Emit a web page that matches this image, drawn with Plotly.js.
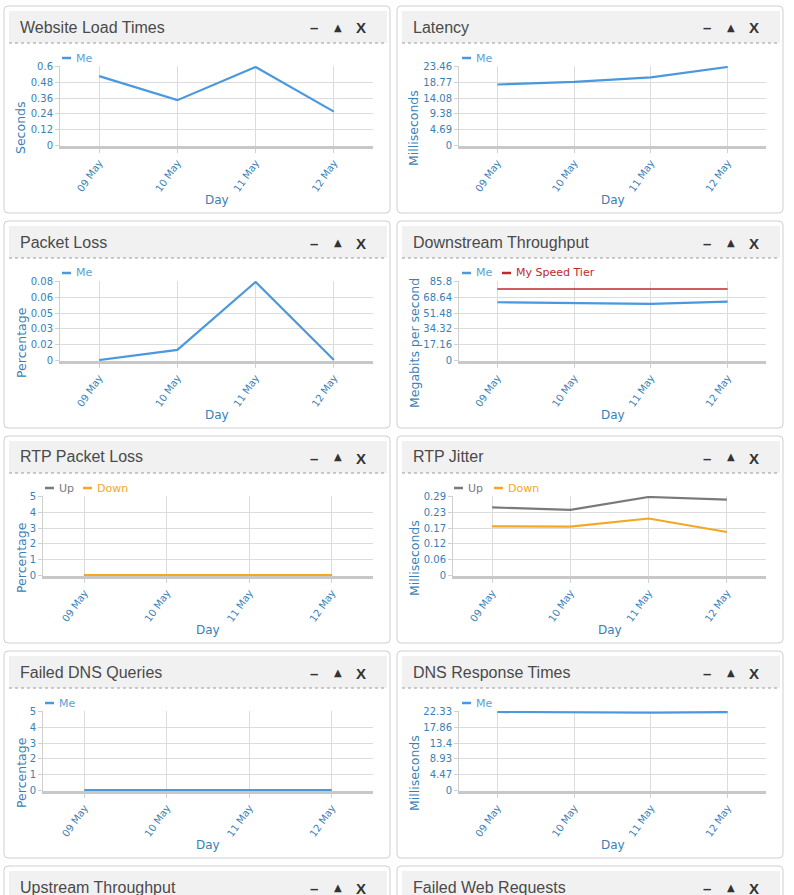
<!DOCTYPE html>
<html><head><meta charset="utf-8">
<script src="https://cdn.plot.ly/plotly-3.0.1.min.js"></script>
<style>html,body{margin:0;padding:0;background:#fff;overflow:hidden}#chart{width:794px;height:895px}</style>
</head><body><div id="chart"></div>
<script>
// ---- data ----
const days = ['09 May', '10 May', '11 May', '12 May'];
const loadTimesMe = [0.53, 0.345, 0.6, 0.257];
const latencyMe = [18.2, 18.97, 20.33, 23.46];
const packetLossMe = [0, 0.0104, 0.08, 0];
const downstreamMe = [63.5, 62.4, 61.8, 64.3];
const downstreamTier = [78, 78, 78, 78];
const rtpLossUp = [0, 0, 0, 0];
const rtpLossDown = [0, 0, 0, 0];
const jitterUp = [0.251, 0.242, 0.29, 0.280];
const jitterDown = [0.181, 0.180, 0.21, 0.16];
const dnsFailedMe = [0, 0, 0, 0];
const dnsResponseMe = [22.33, 22.15, 22.15, 22.3];
const yAxisMax = [0.6, 23.46, 0.08, 85.8, 5, 0.29, 5, 22.33];
const panelTitles = ['Website Load Times', 'Latency', 'Packet Loss', 'Downstream Throughput',
  'RTP Packet Loss', 'RTP Jitter', 'Failed DNS Queries', 'DNS Response Times',
  'Upstream Throughput', 'Failed Web Requests'];
const yTitles = ['Seconds', 'Milliseconds', 'Percentage', 'Megabits per second',
  'Percentage', 'Milliseconds', 'Percentage', 'Milliseconds'];
const xTitle = 'Day';

// ---- styling ----
const W = 794, H = 895;
const BLUE = '#4a98de', RED = '#c1272d', GRAY = '#7a7a7a', ORANGE = '#f5a623';
const AXC = '#3a7fb5';
const FONT = 'DejaVu Sans, Verdana, sans-serif';
const TFONT = 'Liberation Sans, Arial, sans-serif';
const X = p => p / W;
const Y = p => 1 - p / H;
const colX = [[4, 390], [397, 783]];
const rowTop = [6, 221, 436, 651, 866];

const charts = [
  {px: [60, 373], series: [{name: 'Me', y: loadTimesMe, c: BLUE}], leg: [2]},
  {px: [459, 766], series: [{name: 'Me', y: latencyMe, c: BLUE}], leg: [3]},
  {px: [60, 373], series: [{name: 'Me', y: packetLossMe, c: BLUE}], leg: [2]},
  {px: [459, 766], series: [{name: 'Me', y: downstreamMe, c: BLUE}, {name: 'My Speed Tier', y: downstreamTier, c: RED, w: 1.5}], leg: [3, 43]},
  {px: [43, 373], series: [{name: 'Up', y: rtpLossUp, c: GRAY}, {name: 'Down', y: rtpLossDown, c: ORANGE}], leg: [2, 40]},
  {px: [453, 766], series: [{name: 'Up', y: jitterUp, c: GRAY}, {name: 'Down', y: jitterDown, c: ORANGE}], leg: [1, 41]},
  {px: [43, 373], series: [{name: 'Me', y: dnsFailedMe, c: BLUE}], leg: [2]},
  {px: [459, 766], series: [{name: 'Me', y: dnsResponseMe, c: BLUE}], leg: [3]}
];

const traces = [], shapes = [], annotations = [];
const layout = {
  width: W, height: H, margin: {l: 0, r: 0, t: 0, b: 0},
  paper_bgcolor: '#fff', plot_bgcolor: 'rgba(0,0,0,0)',
  showlegend: false, shapes, annotations, hovermode: false
};

function roundRect(x0, y0, x1, y1, r) {
  const rx = r / W, ry = r / H;
  const a = X(x0), b = X(x1), t = Y(y0), u = Y(y1);
  return `M${a + rx},${t} L${b - rx},${t} Q${b},${t} ${b},${t - ry} L${b},${u + ry} Q${b},${u} ${b - rx},${u} L${a + rx},${u} Q${a},${u} ${a},${u + ry} L${a},${t - ry} Q${a},${t} ${a + rx},${t} Z`;
}

// panels (10, last two partly visible)
panelTitles.forEach((title, i) => {
  const col = i % 2, row = Math.floor(i / 2);
  const [x0, x1] = colX[col];
  const top = rowTop[row];
  shapes.push({type: 'path', xref: 'paper', yref: 'paper', layer: 'below',
    path: roundRect(x0, top, x1, top + 207, 4), fillcolor: '#fff', line: {color: '#cfcfcf', width: 1}});
  shapes.push({type: 'rect', xref: 'paper', yref: 'paper', layer: 'below',
    x0: X(x0 + 5), x1: X(x1 - 3), y0: Y(top + 37), y1: Y(top + 5), fillcolor: '#f1f1f1', line: {width: 0}});
  shapes.push({type: 'line', xref: 'paper', yref: 'paper', layer: 'below',
    x0: X(x0 + 5), x1: X(x1 - 3), y0: Y(top + 37), y1: Y(top + 37), line: {color: '#9a9a9a', width: 1, dash: 'dot'}});
  annotations.push({xref: 'paper', yref: 'paper', x: X(x0 + 14), y: Y(top + 21), xanchor: 'left', yanchor: 'middle',
    text: title, showarrow: false, font: {family: TFONT, size: 16, color: '#4a4a4a'}});
  const ix = x1 - 76;
  annotations.push({xref: 'paper', yref: 'paper', x: X(ix), y: Y(top + 22), xanchor: 'center', yanchor: 'middle',
    text: '<b>–</b>', showarrow: false, font: {family: TFONT, size: 15, color: '#333'}});
  annotations.push({xref: 'paper', yref: 'paper', x: X(ix + 24), y: Y(top + 21), xanchor: 'center', yanchor: 'middle',
    text: '▲', showarrow: false, font: {family: FONT, size: 10, color: '#333'}});
  annotations.push({xref: 'paper', yref: 'paper', x: X(ix + 47), y: Y(top + 22), xanchor: 'center', yanchor: 'middle',
    text: '<b>X</b>', showarrow: false, font: {family: TFONT, size: 15, color: '#333'}});
});

const fmt = v => String(Math.round(v * 100) / 100);

charts.forEach((ch, i) => {
  const n = i === 0 ? '' : String(i + 1);
  const col = i % 2, row = Math.floor(i / 2);
  const top = rowTop[row];
  const [p0, p1] = ch.px;
  const ymax = yAxisMax[i];
  const pad = ymax * 0.0125;
  const tv = [0, 1, 2, 3, 4, 5].map(k => ymax * k / 5);
  layout['xaxis' + n] = {
    domain: [X(p0), X(p1)], anchor: 'y' + n, type: 'category', range: [-0.5, 3.5],
    tickangle: -55, tickfont: {family: FONT, size: 10, color: AXC},
    showgrid: true, gridcolor: '#dcdcdc', gridwidth: 1,
    showline: true, linecolor: '#c8c8c8', linewidth: 3,
    ticks: 'outside', ticklen: 4, tickcolor: '#d0d0d0', layer: 'below traces', fixedrange: true
  };
  layout['yaxis' + n] = {
    domain: [Y(top + 140), Y(top + 60)], anchor: 'x' + n, range: [-pad, ymax + pad],
    tickvals: tv, ticktext: tv.map(fmt), tickfont: {family: FONT, size: 10, color: AXC},
    showgrid: true, gridcolor: '#dcdcdc', gridwidth: 1, zeroline: false,
    showline: true, linecolor: '#d0d0d0', linewidth: 1,
    ticks: 'outside', ticklen: 4, tickcolor: '#d0d0d0', layer: 'below traces', fixedrange: true
  };
  ch.series.forEach((s, k) => {
    traces.push({type: 'scatter', mode: 'lines', x: days, y: s.y, name: s.name,
      xaxis: 'x' + n, yaxis: 'y' + n, line: {color: s.c, width: s.w || 2.2}, cliponaxis: false});
    // legend entry
    const lx = p0 + ch.leg[k];
    const ly = top + 52;
    shapes.push({type: 'line', xref: 'paper', yref: 'paper', x0: X(lx), x1: X(lx + 9), y0: Y(ly), y1: Y(ly),
      line: {color: s.c, width: 2.5}});
    annotations.push({xref: 'paper', yref: 'paper', x: X(lx + 12), y: Y(ly), xanchor: 'left', yanchor: 'middle',
      text: s.name, showarrow: false, font: {family: FONT, size: 11, color: s.c === BLUE ? '#5a9fd8' : s.c}});
  });
  // axis titles
  const tx = col === 0 ? 21 : 414;
  annotations.push({xref: 'paper', yref: 'paper', x: X(tx), y: Y(top + 122), xanchor: 'center', yanchor: 'middle',
    text: yTitles[i], textangle: -90, showarrow: false, font: {family: FONT, size: 12.5, color: AXC}});
  annotations.push({xref: 'paper', yref: 'paper', x: X((p0 + p1) / 2), y: Y(top + 194), xanchor: 'center', yanchor: 'middle',
    text: xTitle, showarrow: false, font: {family: FONT, size: 12, color: AXC}});
});

Plotly.newPlot('chart', traces, layout, {displayModeBar: false, staticPlot: true});
</script></body></html>
